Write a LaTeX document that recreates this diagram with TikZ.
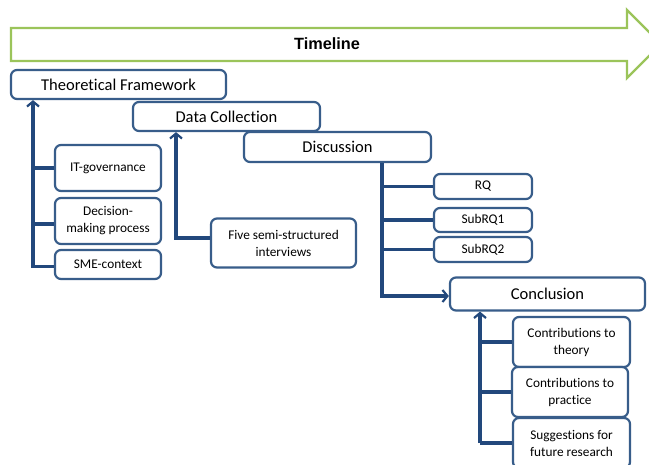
\documentclass[tikz,border=0pt]{standalone}
\usepackage{fontspec}
\setmainfont{Carlito}[Ligatures=NoCommon]
\newfontfamily\tlfont{Liberation Sans}
\usetikzlibrary{arrows.meta}
\definecolor{boxblue}{RGB}{56,93,138}
\definecolor{linkblue}{RGB}{34,72,124}
\definecolor{tlgreen}{RGB}{155,196,90}
\begin{document}
\begin{tikzpicture}[x=1pt,y=-1pt,
 box/.style={draw=boxblue, line width=2.2pt, rounded corners=6pt, fill=white, inner sep=0pt, align=center, text=black},
 big/.style={box, font=\fontsize{16.5}{19}\selectfont},
 small/.style={box, font=\fontsize{13.3}{17}\selectfont},
 conn/.style={draw=linkblue, line width=3.2pt},
 tip/.style={-{Straight Barb[length=5pt,width=12pt,line width=2.2pt]}}
]
\useasboundingbox (0,0) rectangle (649,464);
\clip (0,0) rectangle (649,464);
\fill[white] (0,0) rectangle (649,464);

% timeline arrow
\draw[tlgreen, line width=2.4pt, fill=white, line join=miter]
  (11,28) -- (627,28) -- (627,10) -- (661,44) -- (627,78) -- (627,61) -- (11,61) -- cycle;
\node[font=\tlfont\bfseries\fontsize{16.3}{19}\selectfont] (tl) at (327,44) {Timeline};

% boxes
\node[big, minimum width=215pt, minimum height=29pt] (tf) at (118.5,84.5) {Theoretical Framework};
\node[big, minimum width=187pt, minimum height=29pt] (dc) at (226.5,116.5) {Data Collection};
\node[big, minimum width=187pt, minimum height=30pt] (disc) at (337.5,147) {Discussion};
\node[small, minimum width=106pt, minimum height=46pt] (itg) at (108,168) {IT-governance};
\node[small, minimum width=106pt, minimum height=46pt] (dmp) at (108,221) {Decision-\\making process};
\node[small, minimum width=106pt, minimum height=29pt] (sme) at (108,264.5) {SME-context};
\node[small, minimum width=145pt, minimum height=49pt] (five) at (283.5,243) {Five semi-structured\\interviews};
\node[small, minimum width=98pt, minimum height=25pt] (rq) at (483,186.5) {RQ};
\node[small, minimum width=98pt, minimum height=24pt] (s1) at (483,220) {SubRQ1};
\node[small, minimum width=98pt, minimum height=25pt] (s2) at (483,249.5) {SubRQ2};
\node[big, minimum width=195pt, minimum height=33pt] (conc) at (547.5,294) {Conclusion};
\node[small, minimum width=117pt, minimum height=50pt] (ct) at (571.5,342) {Contributions to\\theory};
\node[small, minimum width=116pt, minimum height=50pt] (cp) at (570,392) {Contributions to\\practice};
\node[small, minimum width=117pt, minimum height=50pt] (sfr) at (571.5,443) {Suggestions for\\future research};

% connector columns
\coordinate (ka) at (33,0);
\coordinate (kb) at (176,0);
\coordinate (kc) at (382,0);
\coordinate (kd) at (480,0);

% connectors
\draw[conn,tip] ([yshift=-2pt]sme.west) -| (tf.south -| ka);
\draw[conn] (itg.west) -- (itg.west -| ka);
\draw[conn] ([yshift=-3pt]dmp.west) -- ([yshift=-3pt]dmp.west -| ka);
\draw[conn,tip] ([yshift=5pt]five.west) -| (dc.south -| kb);
\draw[conn,tip] (disc.south -| kc) |- ([yshift=-2pt]conc.west);
\draw[conn] (rq.west -| kc) -- (rq.west);
\draw[conn] (s1.west -| kc) -- (s1.west);
\draw[conn] (s2.west -| kc) -- (s2.west);
\draw[conn,tip] (sfr.west -| kd) -- (conc.south -| kd);
\draw[conn] (ct.west -| kd) -- (ct.west);
\draw[conn] (cp.west -| kd) -- (cp.west);
\draw[conn] (sfr.west -| kd) -- (sfr.west);
\end{tikzpicture}
\end{document}
